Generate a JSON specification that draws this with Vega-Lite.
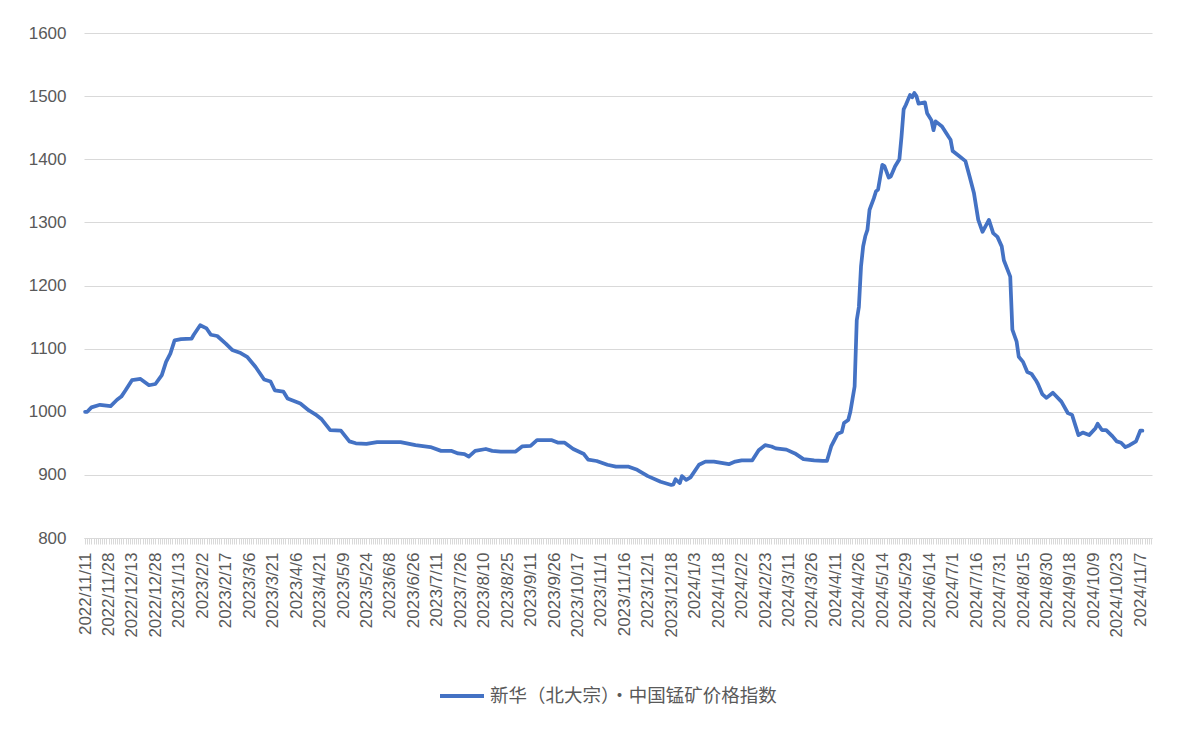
{
  "$schema": "https://vega.github.io/schema/vega-lite/v6.json",
  "width": 1068,
  "height": 505,
  "autosize": "none",
  "padding": {"left": 84, "top": 33, "right": 31, "bottom": 205},
  "background": "white",
  "config": {"view": {"stroke": null}, "font": "Liberation Sans"},
  "data": {"values": [
    {"n":0,"v":1000},{"n":1,"v":1000},{"n":3,"v":1007},{"n":7,"v":1011},{"n":12,"v":1009},{"n":15,"v":1019},{"n":17,"v":1024},{"n":19,"v":1034},{"n":22,"v":1050},{"n":26,"v":1052},{"n":30,"v":1042},{"n":33,"v":1044},{"n":36,"v":1058},{"n":38,"v":1079},{"n":40,"v":1092},{"n":42,"v":1113},{"n":45,"v":1115},{"n":50,"v":1116},{"n":51,"v":1122},{"n":54,"v":1137},{"n":57,"v":1132},{"n":59,"v":1122},{"n":62,"v":1120},{"n":66,"v":1108},{"n":69,"v":1098},{"n":73,"v":1093},{"n":76,"v":1087},{"n":80,"v":1071},{"n":84,"v":1051},{"n":87,"v":1048},{"n":89,"v":1034},{"n":93,"v":1032},{"n":95,"v":1021},{"n":101,"v":1013},{"n":105,"v":1002},{"n":108,"v":996},{"n":111,"v":988},{"n":115,"v":971},{"n":120,"v":970},{"n":124,"v":953},{"n":127,"v":950},{"n":132,"v":949},{"n":137,"v":952},{"n":142,"v":952},{"n":148,"v":952},{"n":155,"v":947},{"n":162,"v":944},{"n":167,"v":938},{"n":172,"v":938},{"n":175,"v":934},{"n":178,"v":933},{"n":180,"v":929},{"n":183,"v":938},{"n":188,"v":941},{"n":191,"v":938},{"n":195,"v":937},{"n":202,"v":937},{"n":205,"v":945},{"n":209,"v":946},{"n":212,"v":955},{"n":219,"v":955},{"n":222,"v":951},{"n":225,"v":951},{"n":229,"v":941},{"n":234,"v":933},{"n":236,"v":924},{"n":240,"v":922},{"n":245,"v":916},{"n":249,"v":913},{"n":255,"v":913},{"n":259,"v":908},{"n":264,"v":898},{"n":270,"v":889},{"n":275,"v":884},{"n":276,"v":885},{"n":277,"v":893},{"n":279,"v":887},{"n":280,"v":898},{"n":282,"v":892},{"n":284,"v":896},{"n":288,"v":916},{"n":291,"v":921},{"n":295,"v":921},{"n":302,"v":917},{"n":305,"v":921},{"n":308,"v":923},{"n":313,"v":923},{"n":316,"v":939},{"n":319,"v":947},{"n":322,"v":945},{"n":324,"v":942},{"n":329,"v":940},{"n":333,"v":934},{"n":337,"v":925},{"n":342,"v":923},{"n":346,"v":922},{"n":348,"v":922},{"n":350,"v":945},{"n":353,"v":965},{"n":355,"v":968},{"n":356,"v":982},{"n":358,"v":987},{"n":359,"v":1000},{"n":360,"v":1020},{"n":361,"v":1040},{"n":362,"v":1145},{"n":363,"v":1166},{"n":364,"v":1230},{"n":365,"v":1262},{"n":366,"v":1278},{"n":367,"v":1288},{"n":368,"v":1320},{"n":370,"v":1338},{"n":371,"v":1349},{"n":372,"v":1352},{"n":374,"v":1391},{"n":375,"v":1389},{"n":377,"v":1371},{"n":378,"v":1373},{"n":380,"v":1389},{"n":382,"v":1400},{"n":383,"v":1436},{"n":384,"v":1479},{"n":385,"v":1486},{"n":387,"v":1502},{"n":388,"v":1498},{"n":389,"v":1505},{"n":390,"v":1500},{"n":391,"v":1488},{"n":394,"v":1490},{"n":395,"v":1473},{"n":397,"v":1462},{"n":398,"v":1446},{"n":399,"v":1460},{"n":402,"v":1452},{"n":405,"v":1436},{"n":406,"v":1431},{"n":407,"v":1413},{"n":410,"v":1405},{"n":413,"v":1397},{"n":415,"v":1372},{"n":417,"v":1346},{"n":418,"v":1325},{"n":419,"v":1304},{"n":421,"v":1285},{"n":424,"v":1304},{"n":426,"v":1283},{"n":428,"v":1277},{"n":430,"v":1262},{"n":431,"v":1240},{"n":434,"v":1214},{"n":435,"v":1130},{"n":437,"v":1111},{"n":438,"v":1087},{"n":440,"v":1079},{"n":442,"v":1063},{"n":444,"v":1060},{"n":446,"v":1050},{"n":447,"v":1044},{"n":449,"v":1028},{"n":451,"v":1022},{"n":454,"v":1030},{"n":458,"v":1016},{"n":461,"v":998},{"n":463,"v":995},{"n":466,"v":963},{"n":468,"v":967},{"n":471,"v":963},{"n":474,"v":974},{"n":475,"v":981},{"n":477,"v":971},{"n":479,"v":971},{"n":482,"v":961},{"n":484,"v":953},{"n":486,"v":951},{"n":488,"v":944},{"n":490,"v":947},{"n":493,"v":953},{"n":495,"v":970},{"n":496,"v":970}
  ]},
  "mark": {"type": "line", "strokeWidth": 3.75, "strokeJoin": "round", "strokeCap": "round"},
  "encoding": {
    "x": {
      "field": "n", "type": "quantitative",
      "scale": {"domain": [-0.5, 500.5], "nice": false, "zero": false},
      "axis": {
        "title": null, "grid": false, "tickCount": 500,
        "labelExpr": "datum.value % 11 === 0 ? ['2022/11/11','2022/11/28','2022/12/13','2022/12/28','2023/1/13','2023/2/2','2023/2/17','2023/3/6','2023/3/21','2023/4/6','2023/4/21','2023/5/9','2023/5/24','2023/6/8','2023/6/26','2023/7/11','2023/7/26','2023/8/10','2023/8/25','2023/9/11','2023/9/26','2023/10/17','2023/11/1','2023/11/16','2023/12/1','2023/12/18','2024/1/3','2024/1/18','2024/2/2','2024/2/23','2024/3/11','2024/3/26','2024/4/11','2024/4/26','2024/5/14','2024/5/29','2024/6/14','2024/7/1','2024/7/16','2024/7/31','2024/8/15','2024/8/30','2024/9/18','2024/10/9','2024/10/23','2024/11/7'][datum.value / 11] : ''",
        "labelOverlap": false, "labelFlush": false, "labelBound": false,
        "labelAngle": -90, "labelFontSize": 17, "labelColor": "#595959", "labelPadding": 8,
        "tickSize": 6, "tickColor": "#d9d9d9", "domainColor": "#d9d9d9", "domainWidth": 1
      }
    },
    "y": {
      "field": "v", "type": "quantitative",
      "scale": {"domain": [800, 1600], "nice": false, "zero": false},
      "axis": {
        "title": null, "values": [800, 900, 1000, 1100, 1200, 1300, 1400, 1500, 1600], "format": "d",
        "gridColor": "#d9d9d9", "domain": false, "ticks": false,
        "labelFontSize": 17, "labelColor": "#595959", "labelPadding": 18
      }
    },
    "color": {
      "datum": "新华（北大宗）·中国锰矿价格指数",
      "scale": {"range": ["#4472C4"]},
      "legend": {
        "title": null, "orient": "none", "legendX": 354, "legendY": 639,
        "symbolType": "stroke", "symbolSize": 1936, "symbolStrokeWidth": 4,
        "labelFont": "Noto Sans CJK SC", "labelFontSize": 18.5, "labelColor": "#595959",
        "labelLimit": 0, "labelOffset": 4
      }
    }
  }
}
